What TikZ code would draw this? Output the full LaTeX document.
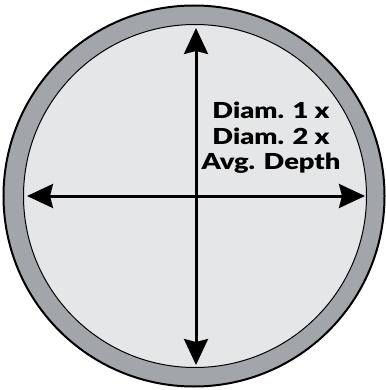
\documentclass[tikz,border=0pt]{standalone}
\usepackage{fontspec}
\setmainfont{Liberation Sans}
\newfontfamily\heavyfont{Lato Black}[FakeStretch=1.24]
\usetikzlibrary{arrows.meta}
\definecolor{ringgray}{HTML}{A2A5AA}
\definecolor{facegray}{HTML}{E5E6E8}
\tikzset{
  dimarrow/.style={line width=3pt, {Stealth[length=26pt,width=24pt,inset=3pt]}-{Stealth[length=26pt,width=24pt,inset=3pt]}},
  label/.style={font=\heavyfont\fontsize{22}{25.5}\selectfont, align=center, inner sep=0pt}
}
\begin{document}
\begin{tikzpicture}[x=1pt,y=-1pt]
\useasboundingbox (0,0) rectangle (385,390);
\node[circle, minimum size=381pt, draw=black, line width=2pt, fill=ringgray, inner sep=0pt] (outer) at (194,196) {};
\node[circle, minimum size=343pt, draw=black, line width=1pt, fill=facegray, inner sep=0pt] (inner) at (195,196) {};
\coordinate (top) at (196,28);
\coordinate (bot) at (196,365);
\coordinate (left) at (27,196);
\coordinate (right) at (365,196);
\draw[dimarrow] (top) -- (bot);
\draw[dimarrow] (left) -- (right);
\node[label] (txt) at (271,138) {Diam. 1 x\\Diam. 2 x\\Avg. Depth};
\end{tikzpicture}
\end{document}
